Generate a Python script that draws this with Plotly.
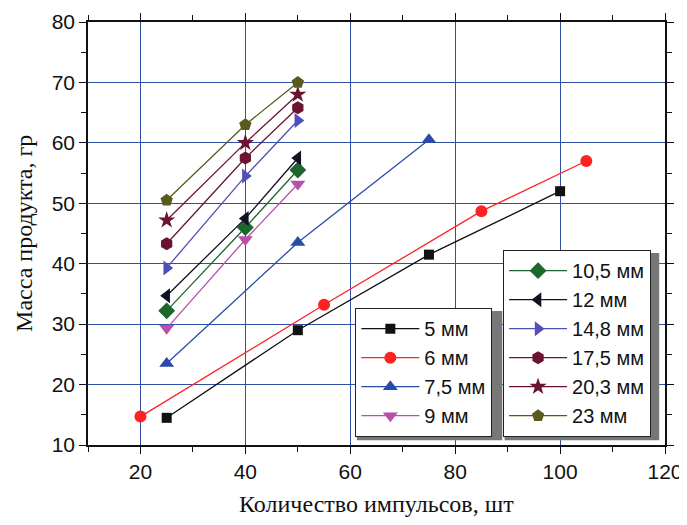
import plotly.graph_objects as go

names = ["5 мм", "6 мм", "7,5 мм", "9 мм", "10,5 мм", "12 мм", "14,8 мм", "17,5 мм", "20,3 мм", "23 мм"]
x_vals = [
    [25, 50, 75, 100],
    [20, 55, 85, 105],
    [25, 50, 75],
    [25, 40, 50],
    [25, 40, 50],
    [25, 40, 50],
    [25, 40, 50],
    [25, 40, 50],
    [25, 40, 50],
    [25, 40, 50],
]
y_vals = [
    [14.5, 29.0, 41.5, 52.0],
    [14.7, 33.2, 48.7, 57.0],
    [23.5, 43.5, 60.5],
    [29.3, 44.0, 53.2],
    [32.2, 46.0, 55.5],
    [34.7, 47.5, 57.5],
    [39.3, 54.5, 63.7],
    [43.3, 57.5, 65.8],
    [47.2, 60.0, 68.0],
    [50.5, 63.0, 70.0],
]
colors = ["#111111", "#ff2222", "#2a4aa8", "#b84fa8", "#1d6630", "#111122",
          "#5050b8", "#6a1432", "#6a1432", "#5a5a1e"]
symbols = ["square", "circle", "triangle-up", "triangle-down", "diamond", "triangle-left",
           "triangle-right", "hexagon", "star", "pentagon"]
msizes = [10, 12, 13, 13, 13, 13, 13, 13, 13, 13]

fig = go.Figure()
for i, n in enumerate(names):
    fig.add_trace(go.Scatter(
        x=x_vals[i], y=y_vals[i], name=n, mode="lines+markers",
        line=dict(color=colors[i], width=1.3),
        marker=dict(symbol=symbols[i], size=msizes[i], color=colors[i]),
        legend="legend" if i < 4 else "legend2",
    ))

legend_common = dict(
    bgcolor="white", bordercolor="#222", borderwidth=1.2,
    font=dict(family="Arial, Liberation Sans", size=20, color="#111"),
    traceorder="normal", itemwidth=58,
    xref="paper", yref="paper", yanchor="bottom", y=0.019,
)

# legend drop shadows (Origin style)
for (x0, x1, y0, y1) in [(0.466, 0.718, 0.011, 0.317), (0.722, 0.990, 0.011, 0.454)]:
    fig.add_shape(type="rect", xref="paper", yref="paper", x0=x0, x1=x1, y0=y0, y1=y1,
                  fillcolor="#777777", line=dict(width=0), layer="above")

grid_col = "#2f4ea8"
axis_font = dict(family="Arial, Liberation Sans", size=21, color="#111")
title_font = dict(family="Liberation Serif, Times New Roman", size=24, color="#111")
fig.update_layout(
    width=679, height=517,
    margin=dict(l=80, r=22, t=14, b=80),
    paper_bgcolor="white", plot_bgcolor="white",
    legend=dict(x=0.463, xanchor="left", **legend_common),
    legend2=dict(x=0.719, xanchor="left", **legend_common),
    showlegend=True,
    xaxis=dict(
        range=[10, 120], tickvals=[20, 40, 60, 80, 100, 120], automargin=False,
        showgrid=True, gridcolor=grid_col, gridwidth=1.2,
        showline=True, linecolor="#111", linewidth=1.5, mirror="ticks",
        ticks="outside", ticklen=7, tickwidth=1.3, tickcolor="#111",
        minor=dict(tickvals=[10, 30, 50, 70, 90, 110], ticks="outside", ticklen=5,
                   tickcolor="#111", showgrid=False),
        tickfont=axis_font, zeroline=False,
    ),
    yaxis=dict(
        range=[10, 80], tickvals=[10, 20, 30, 40, 50, 60, 70, 80], automargin=False,
        showgrid=True, gridcolor=grid_col, gridwidth=1.2,
        showline=True, linecolor="#111", linewidth=1.5, mirror="ticks",
        ticks="outside", ticklen=7, tickwidth=1.3, tickcolor="#111",
        minor=dict(tickvals=[15, 25, 35, 45, 55, 65, 75], ticks="outside", ticklen=5,
                   tickcolor="#111", showgrid=False),
        tickfont=axis_font, zeroline=False,
    ),
    annotations=[
        dict(text="Количество импульсов, шт", xref="paper", yref="paper", x=0.5, y=-0.14,
             xanchor="center", yanchor="middle", showarrow=False, font=title_font),
        dict(text="Масса продукта, гр", xref="paper", yref="paper", x=-0.112, y=0.5,
             xanchor="center", yanchor="middle", showarrow=False, textangle=-90, font=title_font),
    ],
)

fig.write_html("out.html")
